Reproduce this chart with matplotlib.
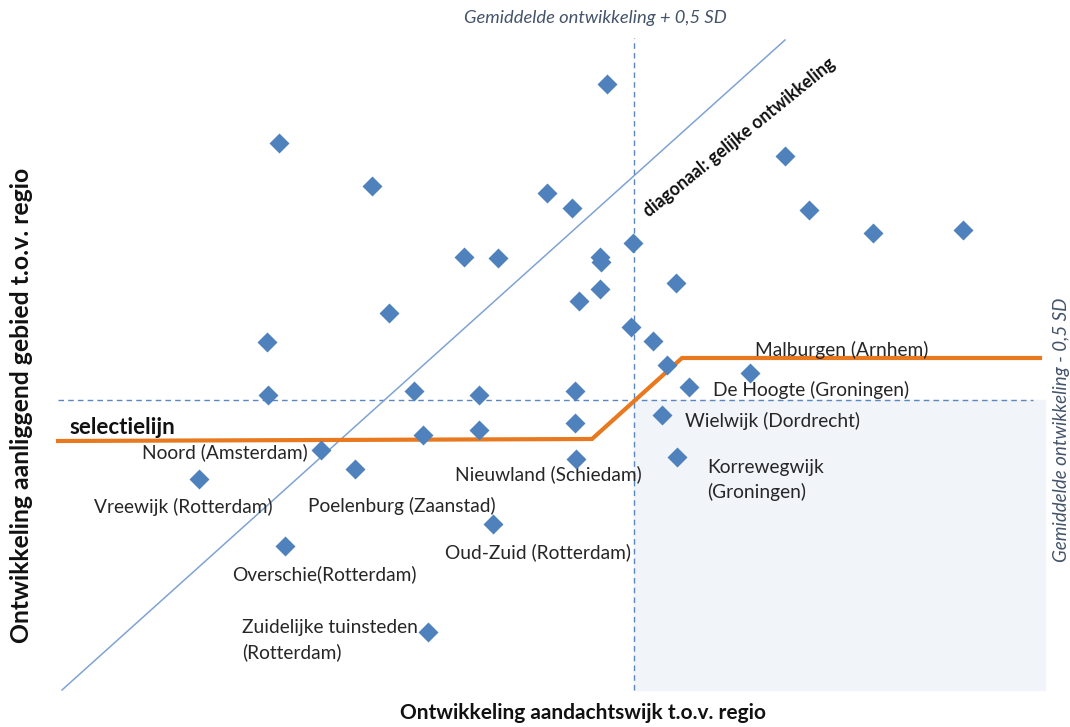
import matplotlib.pyplot as plt

plt.rcParams['font.family'] = ['Lato', 'DejaVu Sans']

# positions relative to the averages (centre of the cross = 0,0)
wijk_x = [-0.27, -3.55, -2.62, 1.51, -0.87, -0.62, 1.75, 2.39, 3.29, -0.01,
          -1.70, -1.36, -0.34, -0.33, -0.55, -0.34, 0.42, -2.45, -0.03, -3.67,
          0.19, 0.33, 1.16, 0.55, -3.66, -2.20, -1.55, -0.59, 0.28, 0.43,
          -2.11, -1.55, -0.59, -0.58, -3.13, -2.79, -4.35, -1.41, -3.49, -2.06]
wijk_y = [3.16, 2.57, 2.14, 2.44, 2.07, 1.92, 1.90, 1.67, 1.70, 1.57,
          1.43, 1.42, 1.43, 1.38, 0.99, 1.11, 1.17, 0.87, 0.73, 0.58,
          0.59, 0.35, 0.27, 0.13, 0.05, 0.09, 0.05, 0.09, -0.15, -0.57,
          -0.35, -0.30, -0.23, -0.59, -0.50, -0.69, -0.79, -1.24, -1.46, -2.32]

# named wijken: label text and label position
namen = ['Malburgen (Arnhem)', 'De Hoogte (Groningen)', 'Wielwijk (Dordrecht)',
         'Korrewegwijk\n(Groningen)', 'Noord (Amsterdam)', 'Nieuwland (Schiedam)',
         'Vreewijk (Rotterdam)', 'Poelenburg (Zaanstad)', 'Oud-Zuid (Rotterdam)',
         'Overschie(Rotterdam)', 'Zuidelijke tuinsteden\n(Rotterdam)']
naam_x = [1.21, 0.79, 0.51, 0.73, -4.92, -1.79, -5.40, -3.26, -1.89, -4.02, -3.92]
naam_y = [0.50, 0.10, -0.21, -0.80, -0.52, -0.74, -1.07, -1.06, -1.52, -1.74, -2.40]

# selection line and diagonal
selectie_x = [-5.76, -0.42, 0.48, 4.06]
selectie_y = [-0.41, -0.39, 0.42, 0.42]
diag_x = [-5.72, 1.51]
diag_y = [-2.90, 3.60]

fig = plt.figure(figsize=(10.7, 7.27), dpi=100)
ax = fig.add_axes([0, 0, 1, 1])
ax.set_xlim(-6.34, 4.36)
ax.set_ylim(-3.27, 4.00)
ax.axis('off')

# shaded quadrant
ax.fill_between([0, 4.11], -2.90, 0, color='#f1f4f9', zorder=0)

# dashed average lines
ax.plot([0, 0], [-2.90, 3.62], ls=(0, (4, 3)), color='#5b87c0', lw=1)
ax.plot([-5.76, 3.99], [0, 0], ls=(0, (4, 3)), color='#5b87c0', lw=1)

ax.plot(diag_x, diag_y, color='#7fa3d3', lw=1.1)
ax.plot(selectie_x, selectie_y, color='#e8791e', lw=3, solid_joinstyle='miter')

ax.plot(wijk_x, wijk_y, 'D', color='#4f81bd', markersize=10, mec='none', zorder=5)

for i in range(len(namen)):
    ax.text(naam_x[i], naam_y[i], namen[i], fontsize=13.8, color='#262626',
            ha='left', va='center', linespacing=1.45)

ax.text(-0.39, 3.82, 'Gemiddelde ontwikkeling + 0,5 SD', style='italic',
        fontsize=13.2, color='#44546a', ha='center', va='center')
ax.text(4.27, -0.30, 'Gemiddelde ontwikkeling - 0,5 SD', style='italic',
        fontsize=13.5, color='#44546a', ha='center', va='center', rotation=90)
ax.text(1.05, 2.63, 'diagonaal: gelijke ontwikkeling', fontweight='bold',
        fontsize=12.7, color='#111111', ha='center', va='center', rotation=39)
ax.text(-5.65, -0.28, 'selectielijn', fontweight='bold', fontsize=16,
        color='#111111', ha='left', va='center')

ax.text(-0.51, -3.13, 'Ontwikkeling aandachtswijk t.o.v. regio', fontweight='bold',
        fontsize=15, color='#111111', ha='center', va='center')
ax.text(-6.12, -0.05, 'Ontwikkeling aanliggend gebied t.o.v. regio', fontweight='bold',
        fontsize=17.8, color='#111111', ha='center', va='center', rotation=90)

fig.savefig('out.png', dpi=100)
